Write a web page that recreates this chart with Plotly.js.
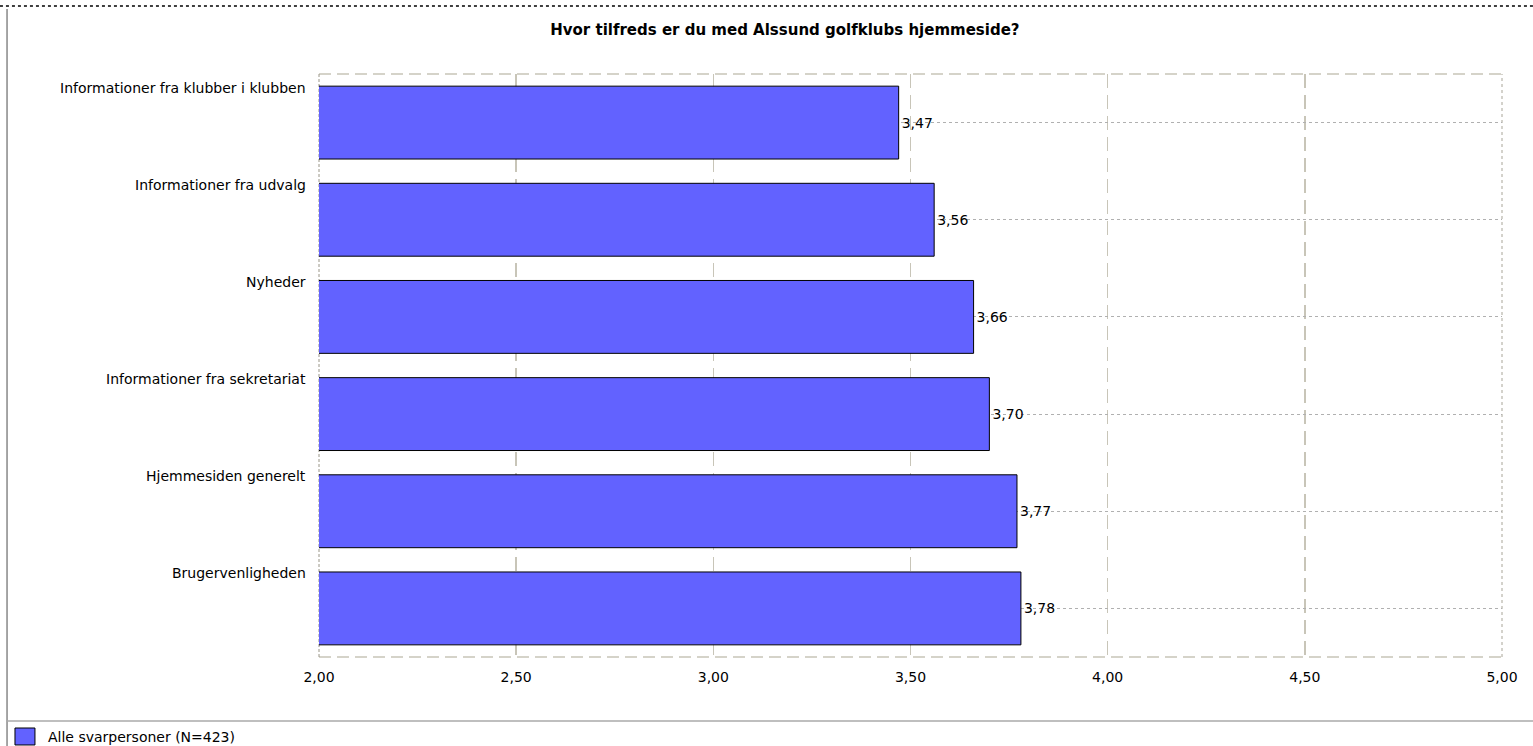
<!DOCTYPE html>
<html>
<head>
<meta charset="utf-8">
<script src="https://cdn.plot.ly/plotly-3.0.1.min.js"></script>
<style>
html,body{margin:0;padding:0;background:#fff;}
#chart{width:1533px;height:746px;}
</style>
</head>
<body>
<div id="chart"></div>
<script>
const categories = [
  "Informationer fra klubber i klubben",
  "Informationer fra udvalg",
  "Nyheder",
  "Informationer fra sekretariat",
  "Hjemmesiden generelt",
  "Brugervenligheden"
];
const values = [3.47, 3.56, 3.66, 3.70, 3.77, 3.78];
const valueLabels = ["3,47", "3,56", "3,66", "3,70", "3,77", "3,78"];
const tickVals = [2.0, 2.5, 3.0, 3.5, 4.0, 4.5, 5.0];
const tickText = ["2,00", "2,50", "3,00", "3,50", "4,00", "4,50", "5,00"];
const seriesName = "Alle svarpersoner (N=423)";
const chartTitle = "Hvor tilfreds er du med Alssund golfklubs hjemmeside?";

const FONT = "DejaVu Sans, Verdana, sans-serif";
const GRIDC = "#c8c5b8";
const BAR = "#6262ff";

const trace = {
  type: "bar",
  orientation: "h",
  x: values,
  y: categories,
  name: seriesName,
  width: 0.75,
  marker: {color: BAR, line: {color: "#000000", width: 1}},
  text: valueLabels,
  textposition: "outside",
  textfont: {family: FONT, size: 14, color: "#000"},
  cliponaxis: false,
  hoverinfo: "x+y",
  showlegend: false
};

const annotations = categories.map(c => ({
  xref: "x domain", yref: "y", x: 0, y: c,
  xanchor: "right", yanchor: "middle",
  xshift: -11, yshift: 35,
  text: c, showarrow: false,
  font: {family: FONT, size: 14, color: "#000"}
}));
// legend text
annotations.push({
  xref: "paper", yref: "paper", x: -0.2308, y: -0.1372,
  xanchor: "left", yanchor: "middle", showarrow: false,
  text: seriesName, font: {family: FONT, size: 14, color: "#000"}
});

const shapes = [
  // plot border: top & bottom long dash, left & right short dash
  {type:"line", xref:"x domain", yref:"y domain", x0:0, x1:1, y0:1, y1:1, line:{color:GRIDC, width:1.5, dash:"12px,6px"}, layer:"below"},
  {type:"line", xref:"x domain", yref:"y domain", x0:0, x1:1, y0:0, y1:0, line:{color:GRIDC, width:1.5, dash:"12px,6px"}, layer:"below"},
  {type:"line", xref:"x domain", yref:"y domain", x0:0, x1:0, y0:0, y1:1, line:{color:"#9a9688", width:1, dash:"3px,2px"}, layer:"below"},
  {type:"line", xref:"x domain", yref:"y domain", x0:1, x1:1, y0:0, y1:1, line:{color:"#a8a598", width:1, dash:"3px,3px"}, layer:"below"},
  // outer frame
  {type:"line", xref:"paper", yref:"paper", x0:-0.2697, x1:1.0262, y0:1.1166, y1:1.1166, line:{color:"#000", width:1.5, dash:"dot"}},
  {type:"line", xref:"paper", yref:"paper", x0:-0.2637, x1:-0.2637, y0:1.1115, y1:-0.1527, line:{color:"#888", width:1.5}},
  {type:"line", xref:"paper", yref:"paper", x0:-0.2637, x1:1.0262, y0:-0.1098, y1:-0.1098, line:{color:"#aaa", width:1.5}},
  // legend swatch
  {type:"rect", xref:"paper", yref:"paper", x0:-0.2570, x1:-0.2401, y0:-0.1218, y1:-0.1509, fillcolor:BAR, line:{color:"#000", width:1}}
];

const layout = {
  width: 1533, height: 746,
  margin: {l: 319, r: 31, t: 74, b: 89},
  paper_bgcolor: "#fff", plot_bgcolor: "#fff",
  font: {family: FONT, size: 14, color: "#000"},
  title: {text: "<b>" + chartTitle + "</b>", x: 0.512, xanchor: "center", y: 0.9598, yanchor: "middle",
          font: {family: FONT, size: 15, color: "#000"}},
  bargap: 0.25,
  showlegend: false,
  xaxis: {
    range: [2, 5], tickvals: tickVals, ticktext: tickText,
    showgrid: true, gridcolor: GRIDC, gridwidth: 1.5, griddash: "14px,7px",
    zeroline: false, showline: false, ticks: "",
    tickfont: {family: FONT, size: 14, color: "#000"}, ticklabelstandoff: 10,
    fixedrange: true, automargin: false
  },
  yaxis: {
    type: "category", categoryorder: "array", categoryarray: categories,
    autorange: "reversed", showticklabels: false,
    showgrid: true, gridcolor: "#b0b0b0", gridwidth: 1, griddash: "3px,3px",
    zeroline: false, showline: false, ticks: "", fixedrange: true, automargin: false
  },
  annotations: annotations,
  shapes: shapes
};

Plotly.newPlot("chart", [trace], layout, {displayModeBar: false, staticPlot: true});
</script>
</body>
</html>
